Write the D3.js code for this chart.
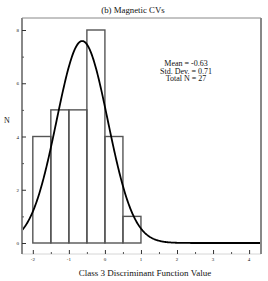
<!DOCTYPE html>
<html>
<head>
<meta charset="utf-8">
<script src="https://cdn.jsdelivr.net/npm/d3@7"></script>
<style>
  body { margin: 0; background: #fff; }
  text { font-family: "Liberation Serif", "DejaVu Serif", serif; fill: #111; }
</style>
</head>
<body>
<div id="chart"></div>
<script>
// histogram bins (lower edge, width 0.5) and counts
var binStarts = [-2, -1.5, -1, -0.5, 0, 0.5];
var binWidth = 0.5;
var counts = [4, 5, 5, 8, 4, 1];

// fitted normal stats
var stats = { mean: -0.63, sd: 0.71, n: 27 };
var statLines = ["Mean = -0.63", "Std. Dev. = 0.71", "Total N = 27"];

var xTicks = [-2, -1, 0, 1, 2, 3, 4];
var yTicks = [0, 2, 4, 6, 8];

var width = 268, height = 281;

var svg = d3.select("#chart")
  .append("svg")
    .attr("width", width)
    .attr("height", height);

// plot frame: left 22, right 261, top 18, bottom 254
var x = d3.scaleLinear().domain([-2.3, 4.33]).range([22, 261]);
var y = d3.scaleLinear().domain([0, 8]).range([243, 30]);
var frameTop = 18, frameBottom = 254;

// title
svg.append("text")
  .attr("x", 133).attr("y", 13)
  .attr("text-anchor", "middle")
  .style("font-size", "8.8px")
  .text("(b) Magnetic CVs");

// bars
svg.selectAll("rect.bar")
  .data(counts)
  .enter()
  .append("rect")
    .attr("class", "bar")
    .attr("x", function(d, i){ return x(binStarts[i]); })
    .attr("y", function(d){ return y(d); })
    .attr("width", function(d, i){ return x(binStarts[i] + binWidth) - x(binStarts[i]); })
    .attr("height", function(d){ return y(0) - y(d); })
    .attr("fill", "none")
    .attr("stroke", "#555")
    .attr("stroke-width", 1.4);

// normal curve
var curvePts = d3.range(-2.3, 4.331, 0.02).map(function(v){
  var z = (v - stats.mean) / stats.sd;
  return [v, stats.n * binWidth / (stats.sd * Math.sqrt(2 * Math.PI)) * Math.exp(-0.5 * z * z)];
});
svg.append("path")
  .datum(curvePts)
  .attr("fill", "none")
  .attr("stroke", "#000")
  .attr("stroke-width", 1.8)
  .attr("d", d3.line()
    .x(function(d){ return x(d[0]); })
    .y(function(d){ return y(d[1]); }));

// frame
svg.append("line").attr("x1", 22).attr("x2", 261).attr("y1", frameTop).attr("y2", frameTop)
  .attr("stroke", "#888").attr("stroke-width", 1);
svg.append("line").attr("x1", 22).attr("x2", 261).attr("y1", frameBottom).attr("y2", frameBottom)
  .attr("stroke", "#ccc").attr("stroke-width", 0.8);
svg.append("line").attr("x1", 22).attr("x2", 22).attr("y1", frameTop).attr("y2", frameBottom)
  .attr("stroke", "#888").attr("stroke-width", 2);
svg.append("line").attr("x1", 261).attr("x2", 261).attr("y1", frameTop).attr("y2", frameBottom)
  .attr("stroke", "#888").attr("stroke-width", 2);

// y axis (ticks point inward)
var yAxis = svg.append("g")
  .attr("transform", "translate(22,0)")
  .call(d3.axisRight(y).tickValues(yTicks).tickSize(4).tickFormat(""));
yAxis.select(".domain").remove();
yAxis.selectAll("line").attr("stroke", "#333");
svg.append("g")
  .attr("transform", "translate(22,0)")
  .call(d3.axisRight(y).tickValues([1, 3, 5, 7]).tickSize(2).tickFormat(""))
  .call(function(g){ g.select(".domain").remove(); g.selectAll("line").attr("stroke", "#555"); });
svg.selectAll("text.ylab")
  .data(yTicks)
  .enter()
  .append("text")
    .attr("class", "ylab")
    .attr("x", 19)
    .attr("y", function(d){ return y(d) + 2; })
    .attr("text-anchor", "end")
    .style("font-size", "5px")
    .text(function(d){ return d; });

// x axis (ticks point upward from bottom frame)
var xAxis = svg.append("g")
  .attr("transform", "translate(0," + frameBottom + ")")
  .call(d3.axisTop(x).tickValues(xTicks).tickSize(4).tickFormat(""));
xAxis.select(".domain").remove();
xAxis.selectAll("line").attr("stroke", "#333");
svg.append("g")
  .attr("transform", "translate(0," + frameBottom + ")")
  .call(d3.axisTop(x).tickValues([-1.5, -0.5, 0.5, 1.5, 2.5, 3.5]).tickSize(2).tickFormat(""))
  .call(function(g){ g.select(".domain").remove(); g.selectAll("line").attr("stroke", "#555"); });
svg.selectAll("text.xlab")
  .data(xTicks)
  .enter()
  .append("text")
    .attr("class", "xlab")
    .attr("x", function(d){ return x(d); })
    .attr("y", 261)
    .attr("text-anchor", "middle")
    .style("font-size", "5px")
    .text(function(d){ return d; });

// axis titles
svg.append("text")
  .attr("x", 145).attr("y", 276)
  .attr("text-anchor", "middle")
  .style("font-size", "9px")
  .text("Class 3 Discriminant Function Value");
svg.append("text")
  .attr("x", 7).attr("y", 123)
  .attr("text-anchor", "middle")
  .style("font-size", "8px")
  .text("N");

// stats box text
svg.selectAll("text.stat")
  .data(statLines)
  .enter()
  .append("text")
    .attr("class", "stat")
    .attr("x", 186)
    .attr("y", function(d, i){ return 66 + i * 7.6; })
    .attr("text-anchor", "middle")
    .style("font-size", "8px")
    .text(function(d){ return d; });
</script>
</body>
</html>
